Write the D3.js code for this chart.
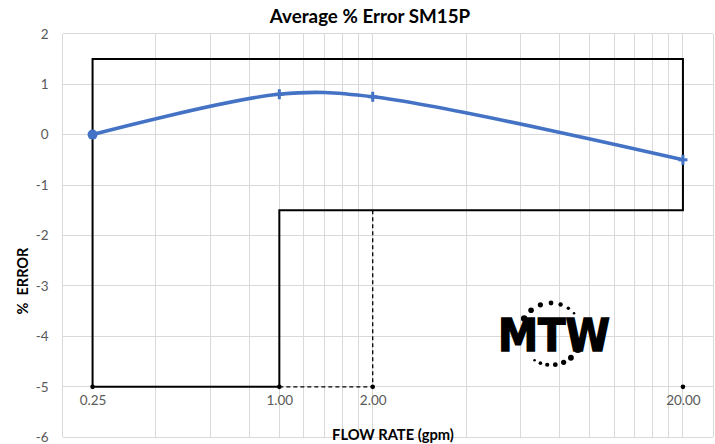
<!DOCTYPE html>
<html>
<head>
<meta charset="utf-8">
<script src="https://cdn.jsdelivr.net/npm/d3@7/dist/d3.min.js"></script>
<style>
  html, body { margin: 0; padding: 0; background: #fff; }
  svg { display: block; }
</style>
</head>
<body>
<svg id="chart" width="715" height="444"></svg>
<script>
// ---- data ----
const flowRates = [0.25, 1.0, 2.0, 20.0];
const avgError = [0, 0.8, 0.75, -0.5];
const xTickLabels = ["0.25", "1.00", "2.00", "20.00"];
const yTickValues = [-6, -5, -4, -3, -2, -1, 0, 1, 2];
const gridFlows = [0.2, 0.4, 0.6, 0.8, 1, 1.2, 1.4, 1.6, 1.8, 2, 4, 6, 8, 10, 12, 14, 16, 18, 20, 25];
const specFlows = [0.25, 0.25, 20, 20, 1, 1, 0.25];
const specErrors = [-5, 1.5, 1.5, -1.5, -1.5, -5, -5];
const dashFlows = [1, 2, 2];
const dashErrors = [-5, -5, -1.5];
const baseDotFlows = [0.25, 1, 2, 20];
const baseDotErrors = [-5, -5, -5, -5];

const svg = d3.select("#chart");
const font = "Lato, 'Open Sans', sans-serif";

const x = d3.scaleLog().domain([0.2, 25]).range([62.5, 713]);
const y = d3.scaleLinear().domain([-6, 2]).range([437.3, 33.7]);

// gridlines
const grid = svg.append("g").attr("stroke", "#d9d9d9").attr("stroke-width", 1).attr("shape-rendering", "crispEdges");
grid.selectAll("line.v").data(gridFlows).join("line")
  .attr("class", "v")
  .attr("x1", d => x(d)).attr("x2", d => x(d))
  .attr("y1", y(2)).attr("y2", y(-6));
grid.selectAll("line.h").data(yTickValues).join("line")
  .attr("class", "h")
  .attr("x1", x(0.2)).attr("x2", x(25))
  .attr("y1", d => y(d)).attr("y2", d => y(d));

// y axis labels
const yAxis = d3.axisLeft(y).tickValues(yTickValues).tickSize(0).tickPadding(0).tickFormat(d => String(d));
const gy = svg.append("g").attr("transform", `translate(${x(0.2) - 14},0)`).call(yAxis);
gy.select(".domain").remove();
gy.selectAll("text").attr("font-family", font).attr("font-size", 13.5).attr("fill", "#595959");

// x axis labels
const xAxis = d3.axisBottom(x).tickValues(flowRates).tickSize(0).tickPadding(0)
  .tickFormat((d, i) => xTickLabels[i]);
const gx = svg.append("g").attr("transform", `translate(0,${y(-5) + 9})`).call(xAxis);
gx.select(".domain").remove();
gx.selectAll("text").attr("font-family", font).attr("font-size", 13.5).attr("fill", "#595959");

// spec envelope
const lineGen = d3.line().x(d => x(d[0])).y(d => y(d[1]));
svg.append("path")
  .datum(specFlows.map((f, i) => [f, specErrors[i]]))
  .attr("d", lineGen)
  .attr("fill", "none").attr("stroke", "#000").attr("stroke-width", 2);
svg.append("path")
  .datum(dashFlows.map((f, i) => [f, dashErrors[i]]))
  .attr("d", lineGen)
  .attr("fill", "none").attr("stroke", "#000").attr("stroke-width", 1.3)
  .attr("stroke-dasharray", "4,3");
svg.selectAll("circle.base").data(baseDotFlows.map((f, i) => [f, baseDotErrors[i]])).join("circle")
  .attr("class", "base")
  .attr("cx", d => x(d[0])).attr("cy", d => y(d[1])).attr("r", 2.3).attr("fill", "#000");

// data series
const pts = flowRates.map((f, i) => [f, avgError[i]]);
svg.append("path")
  .datum(pts)
  .attr("d", d3.line().x(d => x(d[0])).y(d => y(d[1])).curve(d3.curveCatmullRom.alpha(0.5)))
  .attr("fill", "none").attr("stroke", "#4472C4").attr("stroke-width", 3.6)
  .attr("stroke-linecap", "round");
svg.append("circle")
  .attr("cx", x(pts[0][0])).attr("cy", y(pts[0][1])).attr("r", 5).attr("fill", "#4472C4");
const plus = svg.append("g").attr("stroke", "#4472C4").attr("stroke-width", 3);
pts.slice(1).forEach(d => {
  const cx = x(d[0]), cy = y(d[1]);
  plus.append("line").attr("x1", cx).attr("x2", cx).attr("y1", cy - 5).attr("y2", cy + 5);
  plus.append("line").attr("x1", cx - 4.5).attr("x2", cx + 4.5).attr("y1", cy).attr("y2", cy);
});

// titles
svg.append("text").attr("x", 370).attr("y", 23).attr("text-anchor", "middle")
  .attr("font-family", font).attr("font-weight", "bold").attr("font-size", 18.8).attr("fill", "#000")
  .text("Average % Error SM15P");
svg.append("text").attr("x", 393).attr("y", 440).attr("text-anchor", "middle")
  .attr("font-family", font).attr("font-weight", "bold").attr("font-size", 14.7).attr("fill", "#000")
  .text("FLOW RATE (gpm)");
svg.append("text").attr("transform", "translate(28,281) rotate(-90)").attr("text-anchor", "middle")
  .attr("font-family", font).attr("font-weight", "bold").attr("font-size", 14.5).attr("fill", "#000")
  .attr("xml:space", "preserve")
  .text("%  ERROR");

// MTW logo
const logo = svg.append("g").attr("transform", "translate(551,334)");
logo.append("text").attr("x", 3).attr("y", 17).attr("text-anchor", "middle")
  .attr("font-family", "'DejaVu Sans', sans-serif").attr("font-weight", "bold")
  .attr("font-size", 45).attr("textLength", 112).attr("lengthAdjust", "spacingAndGlyphs")
  .attr("fill", "#000").attr("stroke", "#000").attr("stroke-width", 1.5).text("MTW");
const logoDots = [
  [-150, 3.2], [-130, 2.8], [-110, 2.6], [-90, 2.4], [-72, 2.2], [-56, 1.7], [-42, 1.3],
  [122, 1.3], [110, 1.8], [97, 2.1], [82, 2.4], [66, 2.6], [50, 2.9], [30, 3.6]
];
logo.selectAll("circle").data(logoDots).join("circle")
  .attr("cx", d => 31 * Math.cos(d[0] * Math.PI / 180))
  .attr("cy", d => 31 * Math.sin(d[0] * Math.PI / 180))
  .attr("r", d => d[1]).attr("fill", "#000");
</script>
</body>
</html>
